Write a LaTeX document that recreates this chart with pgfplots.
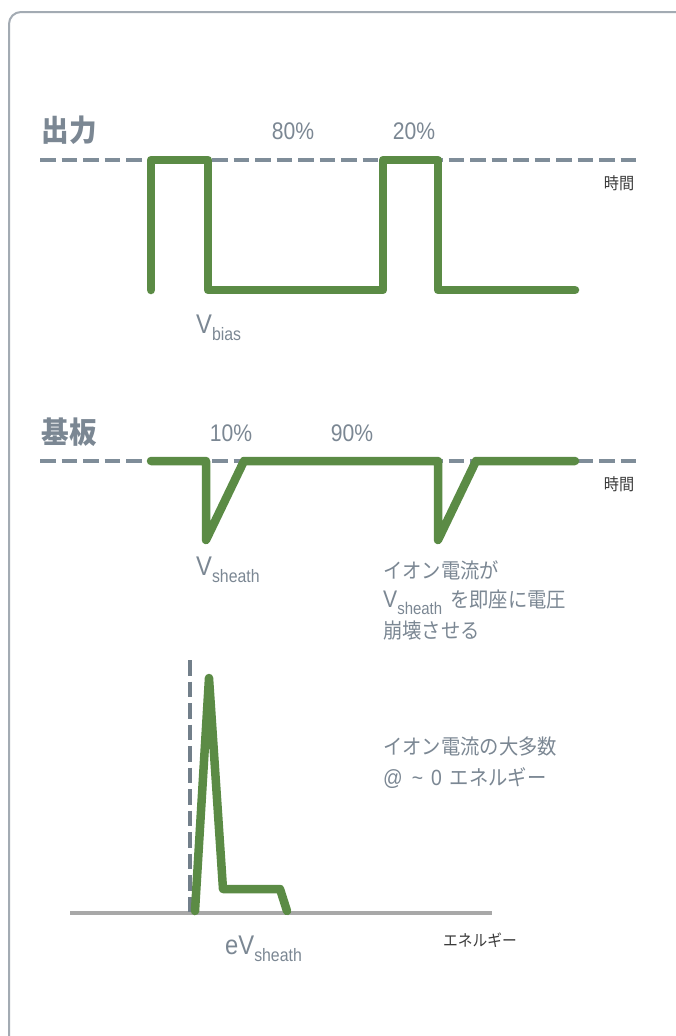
\documentclass[border=0pt]{standalone}
\usepackage{pgfplots}
\pgfplotsset{compat=1.18}
\usepackage{fontspec}
\setmainfont[FakeStretch=0.88]{Liberation Sans}
\newfontfamily\jp[FakeStretch=0.92]{Noto Sans CJK JP}
\definecolor{sig}{HTML}{5B8B45}
\definecolor{slate}{HTML}{7B8793}
\definecolor{dashc}{HTML}{7F8D99}
\definecolor{basec}{HTML}{A8A8A8}
\definecolor{framec}{HTML}{A3ABB3}
\definecolor{dark}{HTML}{3A3A3A}
\newcommand\fs[1]{\fontsize{#1}{#1}\selectfont}
% V with a lowered subscript
\newcommand\Vsub[3]{{\fs{#1}V}\raisebox{-0.75em}{\fs{#2}#3}}

\begin{document}
\begin{tikzpicture}
\begin{axis}[
  at={(0,0)}, anchor=south west,
  width=675pt, height=1036pt, scale only axis,
  hide axis, clip=false,
  xmin=0, xmax=675, ymin=0, ymax=1036, y dir=reverse,
  sigline/.style={sig, line width=8.5pt, line join=round, line cap=round},
  refdash/.style={dashc, line width=4pt, dash pattern=on 15.5pt off 6pt},
]
% frame
\draw[framec, line width=2pt, rounded corners=12pt]
  (axis cs:9,1120) -- (axis cs:9,12) -- (axis cs:720,12) -- (axis cs:720,1120);

% --- panel 1: output
\addplot[refdash] coordinates {(40,160) (636,160)};
\addplot[sigline] coordinates {
  (151,290) (151,160) (208,160) (208,290) (383,290)
  (383,160) (438,160) (438,290) (575,290)};
\node[slate] at (axis cs:69,130) {\jp\bfseries\fs{30}出力};
\node[slate] at (axis cs:293,131) {\fs{24}80\%};
\node[slate] at (axis cs:414,131) {\fs{24}20\%};
\node[dark] at (axis cs:619,183) {\jp\fs{16.5}時間};
\node[slate, anchor=base west, inner sep=0pt] at (axis cs:196,333) {\Vsub{27}{18}{bias}};

% --- panel 2: substrate
\addplot[refdash] coordinates {(40,461) (636,461)};
\addplot[sigline] coordinates {
  (151,461) (206,461) (206,540) (244,461) (438,461)
  (438,540) (476,461) (575,461)};
\node[slate] at (axis cs:69,432) {\jp\bfseries\fs{30}基板};
\node[slate] at (axis cs:231,433) {\fs{24}10\%};
\node[slate] at (axis cs:352,433) {\fs{24}90\%};
\node[dark] at (axis cs:619,484) {\jp\fs{16.5}時間};
\node[slate, anchor=base west, inner sep=0pt] at (axis cs:196,575) {\Vsub{27}{18}{sheath}};
\node[slate, anchor=west, inner sep=0pt] at (axis cs:383,570) {\jp\fs{21}イオン電流が};
\node[slate, anchor=base west, inner sep=0pt] at (axis cs:383,607)
  {\Vsub{24}{17}{sheath}\hspace{8pt}\jp\fs{21}を即座に電圧};
\node[slate, anchor=west, inner sep=0pt] at (axis cs:383,631) {\jp\fs{21}崩壊させる};

% --- panel 3: ion energy distribution
\addplot[basec, line width=4pt] coordinates {(70,913) (492,913)};
\addplot[dashc!90!black, line width=3.5pt, dash pattern=on 15.5pt off 6pt]
  coordinates {(190,660) (190,912)};
\addplot[sigline] coordinates {
  (195,911) (209,678) (223,889) (280,889) (287,911)};
\node[slate, anchor=west, inner sep=0pt] at (axis cs:383,747) {\jp\fs{21}イオン電流の大多数};
\node[slate, anchor=west, inner sep=0pt] at (axis cs:383,778)
  {\fs{22}@\hspace{9pt}\textasciitilde\hspace{8pt}0\hspace{8pt}\jp\fs{21}エネルギー};
\node[dark, anchor=west, inner sep=0pt] at (axis cs:443,940) {\jp\fs{16}エネルギー};
\node[slate, anchor=base west, inner sep=0pt] at (axis cs:225,954)
  {{\fs{27}e}\Vsub{27}{18}{sheath}};
\end{axis}
\pgfresetboundingbox
\useasboundingbox (0,0) rectangle (675pt,1036pt);
\end{tikzpicture}
\end{document}
